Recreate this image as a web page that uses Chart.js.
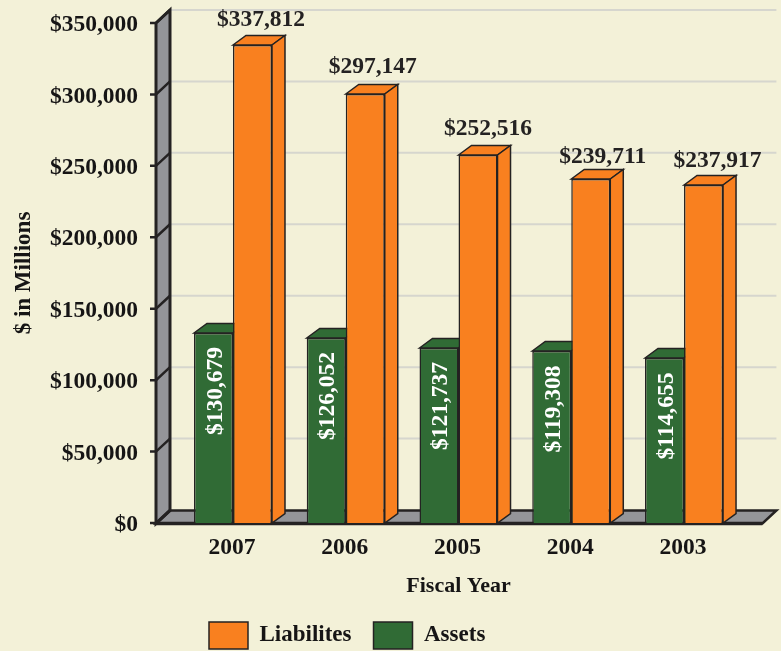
<!DOCTYPE html>
<html><head><meta charset="utf-8">
<style>html,body{margin:0;padding:0;background:#f3f1d8;overflow:hidden}canvas{display:block}</style>
<script src="https://cdn.jsdelivr.net/npm/chart.js@4"></script>
</head><body><canvas id="c" width="781" height="651"></canvas>
<script>
const categories = ["2007","2006","2005","2004","2003"];
// bar heights as drawn in the picture
const liabilitiesHeights = [334600,300300,257600,240800,236600];
const assetsHeights = [133000,129500,122500,120400,115500];
// values as printed on the bars
const liabilitiesPrinted = ["$337,812","$297,147","$252,516","$239,711","$237,917"];
const assetsPrinted = ["$130,679","$126,052","$121,737","$119,308","$114,655"];
const yMax = 350000, yStep = 50000;

const INK="#242222", GREY="#949599", GRID="#d6d6ce", BG="#f3f1d8";
const ORANGE="#f9801f", GREEN="#306b35";
const SERIF="'Liberation Serif', serif";
const nudgeX=[8.5,7.5,10,12,14], nudgeY=[-25,-27,-26,-22,-24];
const PLOT_TOP=23, PLOT_BOTTOM=523;

const scene={
 id:'scene',
 afterLayout(chart){
  if(chart.legend){chart.legend.left=187;chart.legend.top=600;}
  const y=chart.scales.y;
  y.top=PLOT_TOP;y.bottom=PLOT_BOTTOM;y.height=PLOT_BOTTOM-PLOT_TOP;y.configure();
  chart.chartArea.top=PLOT_TOP;chart.chartArea.bottom=PLOT_BOTTOM;chart.chartArea.height=PLOT_BOTTOM-PLOT_TOP;
 },
 beforeDatasetsDraw(chart){
  const g=chart.ctx,a=chart.chartArea,y=chart.scales.y;
  const fl=a.left-20.6, fr=a.right+22, wallDx=14, wallDy=-13, y0=y.getPixelForValue(0)+0.5;
  g.save();
  // back gridlines
  g.strokeStyle=GRID;g.lineWidth=2;
  y.ticks.forEach(t=>{const p=y.getPixelForValue(t.value)+wallDy;if(t.value===0)return;
   g.beginPath();g.moveTo(fl+wallDx,p);g.lineTo(fr+wallDx,p);g.stroke();});
  // floor
  g.lineJoin='miter';g.fillStyle=GREY;g.strokeStyle=INK;g.lineWidth=2.5;
  g.beginPath();g.moveTo(fl,y0);g.lineTo(fl+wallDx,y0+wallDy);g.lineTo(fr+wallDx,y0+wallDy);g.lineTo(fr,y0);g.closePath();g.fill();g.stroke();
  g.lineWidth=3.5;g.beginPath();g.moveTo(fl,y0);g.lineTo(fr,y0);g.stroke();
  // left wall
  const top=y.getPixelForValue(yMax);
  g.lineWidth=3;
  g.beginPath();g.moveTo(fl,top);g.lineTo(fl+wallDx,top+wallDy);g.lineTo(fl+wallDx,y0+wallDy);g.lineTo(fl,y0);g.closePath();g.fill();g.stroke();
  // ticks
  g.lineWidth=2.5;
  y.ticks.forEach(t=>{const p=y.getPixelForValue(t.value);
   g.beginPath();g.moveTo(fl-6,p);g.lineTo(fl,p);g.lineTo(fl+wallDx,p+wallDy);g.stroke();});
  // bar sides and tops
  const dx=13,dy=-9.5;
  chart.data.datasets.forEach((ds,i)=>{
   chart.getDatasetMeta(i).data.forEach(b=>{
    const w=b.width/2,l=b.x-w,r=b.x+w,t=b.y,bo=b.base;
    g.fillStyle=ds.backgroundColor;g.strokeStyle=INK;g.lineWidth=1.5;
    g.beginPath();g.moveTo(l,t);g.lineTo(l+dx,t+dy);g.lineTo(r+dx,t+dy);g.lineTo(r,t);g.closePath();g.fill();g.stroke();
    g.beginPath();g.moveTo(r,t);g.lineTo(r+dx,t+dy);g.lineTo(r+dx,bo+dy);g.lineTo(r,bo);g.closePath();g.fill();g.stroke();
   });
  });
  g.restore();
 },
 afterDatasetsDraw(chart){
  const g=chart.ctx;
  g.save();g.textAlign='center';g.textBaseline='middle';
  g.font="bold 23.5px "+SERIF;
  chart.getDatasetMeta(1).data.forEach((b,i)=>{
   g.fillStyle=INK;g.fillText(liabilitiesPrinted[i],b.x+nudgeX[i],b.y+nudgeY[i]);
  });
  chart.getDatasetMeta(0).data.forEach((b,i)=>{
   g.save();g.translate(b.x,b.y+58);g.rotate(-Math.PI/2);
   g.fillStyle="#ffffff";g.fillText(assetsPrinted[i],0,2);g.restore();
  });
  g.restore();
 }
};

new Chart(document.getElementById('c'),{
 type:'bar',
 data:{labels:categories,datasets:[
  {label:'Assets',data:assetsHeights,backgroundColor:GREEN,borderColor:INK,borderWidth:1.5},
  {label:'Liabilites',data:liabilitiesHeights,backgroundColor:ORANGE,borderColor:INK,borderWidth:1.5}
 ]},
 plugins:[scene],
 options:{
  responsive:false,animation:false,
  layout:{autoPadding:false,padding:{top:0,right:40.6,left:0,bottom:-7}},
  datasets:{bar:{categoryPercentage:0.692,barPercentage:1}},
  plugins:{
   tooltip:{enabled:false},
   legend:{position:'bottom',align:'start',reverse:true,
    labels:{boxWidth:39,boxHeight:27,padding:22,color:"#161515",font:{family:SERIF,weight:'bold',size:23}}}
  },
  scales:{
   x:{grid:{display:false,drawTicks:false},border:{display:false},
    afterFit(s){s.height=77;},
    ticks:{padding:12,labelOffset:-1,color:"#161515",maxRotation:0,font:{family:SERIF,weight:'bold',size:23.5}},
    title:{display:true,text:'Fiscal Year',color:"#161515",font:{family:SERIF,weight:'bold',size:22},padding:{top:0,bottom:-1}}},
   y:{min:0,max:yMax,grid:{display:false,drawTicks:false},border:{display:false},
    afterFit(s){s.width=176.6;},
    ticks:{stepSize:yStep,padding:38.6,labelOffset:2,color:"#161515",font:{family:SERIF,weight:'bold',size:23.5},
     callback:v=>'$'+v.toLocaleString('en-US')},
    title:{display:true,text:'$ in Millions',color:"#161515",font:{family:SERIF,weight:'bold',size:23},padding:{top:10,bottom:0}}}
  }
 }
});
</script></body></html>
